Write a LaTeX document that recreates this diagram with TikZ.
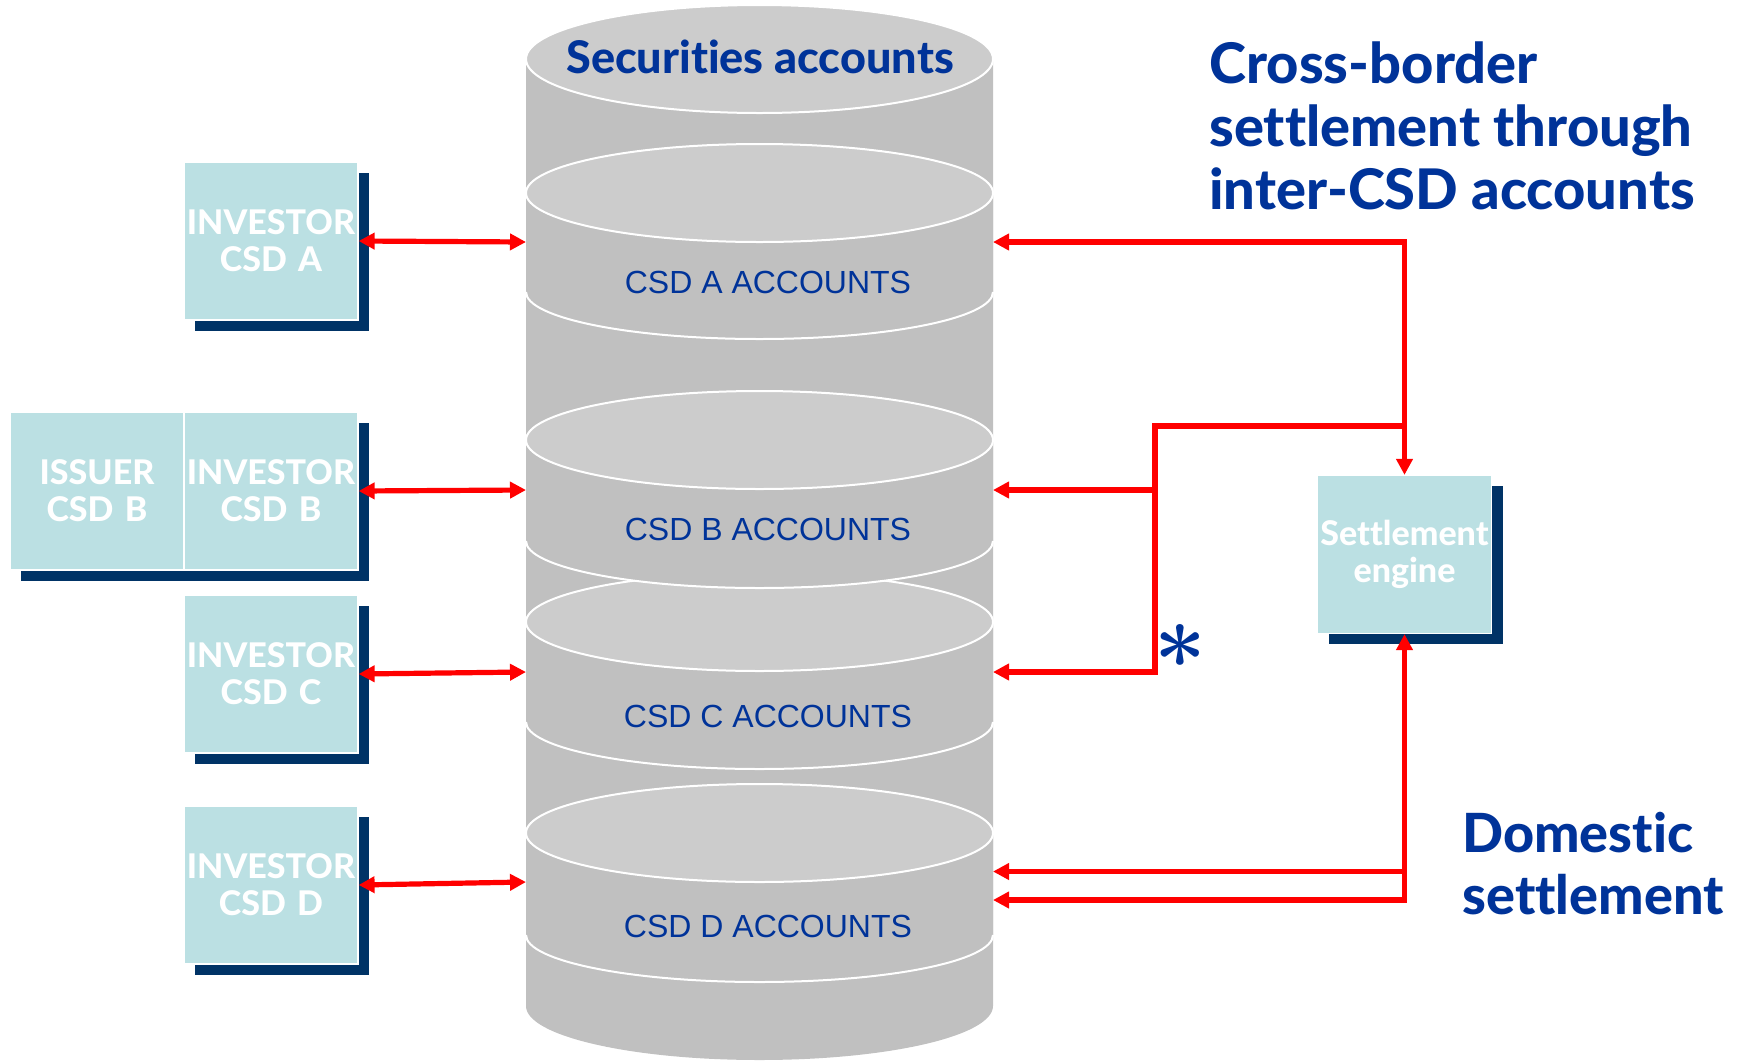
\documentclass[tikz,border=0pt]{standalone}
\usepackage{fontspec}
\usetikzlibrary{arrows.meta,shadows}
\newfontfamily\gillfont{Lato Heavy}[Ligatures=NoCommon]
\newfontfamily\arialfont{Liberation Sans}
\definecolor{csdblue}{RGB}{0,51,153}
\definecolor{boxfill}{RGB}{187,224,227}
\definecolor{navyshadow}{RGB}{0,51,102}
\definecolor{bodygray}{RGB}{192,192,192}
\definecolor{lidgray}{RGB}{204,204,204}

% one account layer of the cylinder: #1 = centre of its lid, #2 = centre of its lower rim
\newcommand\accountdisk[2]{%
  \fill[bodygray] (526,#1) -- (526,#2)
    arc[start angle=180,end angle=0,x radius=233.5,y radius=47] -- (993,#1) -- cycle;
  \draw[white,line width=1pt] (526,#2)
    arc[start angle=180,end angle=0,x radius=233.5,y radius=47];
  \filldraw[fill=lidgray,draw=white,line width=1pt] (759.5,#1) ellipse [x radius=233.5,y radius=49];
}

\tikzset{
  csdbox/.style={rectangle, fill=boxfill, draw=white, line width=0.6pt,
    text width=87pt, minimum height=79pt, inner sep=0pt, text=white, align=center,
    font=\gillfont\fontsize{17}{18.5}\selectfont,
    drop shadow={shadow xshift=5.5pt, shadow yshift=-5.25pt, fill=navyshadow, opacity=1}},
  flow/.style={draw=red, line width=2.6pt, >={Triangle[length=8pt,width=8pt]}},
  acctlabel/.style={text=csdblue, font=\arialfont\fontsize{16}{16}\selectfont, anchor=base, inner sep=0pt},
  heading/.style={text=csdblue, font=\gillfont\fontsize{28}{28}\selectfont, anchor=base west, inner sep=0pt},
  subheading/.style={text=csdblue, font=\gillfont\fontsize{27}{27}\selectfont, anchor=base west, inner sep=0pt},
}

\begin{document}
\begin{tikzpicture}[x=0.5pt,y=-0.5pt]
\useasboundingbox (0,0) rectangle (1747,1061);

% cylinder of securities accounts
\fill[bodygray] (526,59) -- (526,1006)
  arc[start angle=180,end angle=0,x radius=233.5,y radius=54] -- (993,59) -- cycle;
\filldraw[fill=lidgray,draw=white,line width=1pt] (759.5,59) ellipse [x radius=233.5,y radius=54];
\accountdisk{833}{935}
\accountdisk{622}{722}
\accountdisk{440}{541}
\accountdisk{193}{292}

\node[text=csdblue, font=\gillfont\fontsize{22.5}{22.5}\selectfont, anchor=base, inner sep=0pt]
  (sectitle) at (760,73) {Securities accounts};
\node[acctlabel] (lblA) at (768,293) {CSD A ACCOUNTS};
\node[acctlabel] (lblB) at (768,540) {CSD B ACCOUNTS};
\node[acctlabel] (lblC) at (768,727) {CSD C ACCOUNTS};
\node[acctlabel] (lblD) at (768,937) {CSD D ACCOUNTS};

% connection points on the cylinder walls
\coordinate (cAL) at (526,242);
\coordinate (cBL) at (526,490);
\coordinate (cCL) at (526,672);
\coordinate (cDL) at (526,882);
\coordinate (cAR) at (993,242);
\coordinate (cBR) at (993,490);
\coordinate (cCR) at (993,672);
\coordinate (cDR1) at (993,871.5);
\coordinate (cDR2) at (993,900);

% participant boxes
\node[csdbox] (invA) at (271,241) {INVESTOR\\CSD A};
\node[csdbox] (issB) at (97,491) {ISSUER\\CSD B};
\node[csdbox] (invB) at (271,491) {INVESTOR\\CSD B};
\node[csdbox] (invC) at (271,674) {INVESTOR\\CSD C};
\node[csdbox] (invD) at (271,885) {INVESTOR\\CSD D};
\node[csdbox] (eng) at (1404.5,554.5) {Settlement\\engine};

% junctions of the settlement lines
\coordinate (jA) at (eng.north |- cAR);
\coordinate (jX) at (eng.north |- 0,426);
\coordinate (jL) at (1155,426);
\coordinate (jB) at (1155,490);
\coordinate (jC) at (1155,672);
\coordinate (jD1) at (eng.south |- cDR1);
\coordinate (jD2) at (eng.south |- cDR2);

% investors to their accounts
\draw[flow,<->] (invA.east) -- (cAL);
\draw[flow,<->] (invB.east) -- (cBL);
\draw[flow,<->] (invC.east) -- (cCL);
\draw[flow,<->] (invD.east) -- (cDL);

% cross-border settlement
\draw[flow,<->] (cAR) -- (jA) -- (eng.north);
\draw[flow,->] (jX) -- (jL) -- (jC) -- (cCR);
\draw[flow,->] (jB) -- (cBR);

% domestic settlement
\draw[flow,<->] (cDR2) -- (jD2) -- (eng.south);
\draw[flow,->] (jD1) -- (cDR1);

\node[text=csdblue, font=\bfseries\fontsize{46}{46}\selectfont, anchor=base, inner sep=0pt] (star) at (1180,693) {*};

\node[heading] (cb1) at (1209,83.6) {Cross-border};
\node[heading] (cb2) at (1209,146.5) {settlement through};
\node[heading] (cb3) at (1209,209.5) {inter-CSD accounts};
\node[subheading] (ds1) at (1462,852) {Domestic};
\node[subheading] (ds2) at (1462,914) {settlement};
\end{tikzpicture}
\end{document}
